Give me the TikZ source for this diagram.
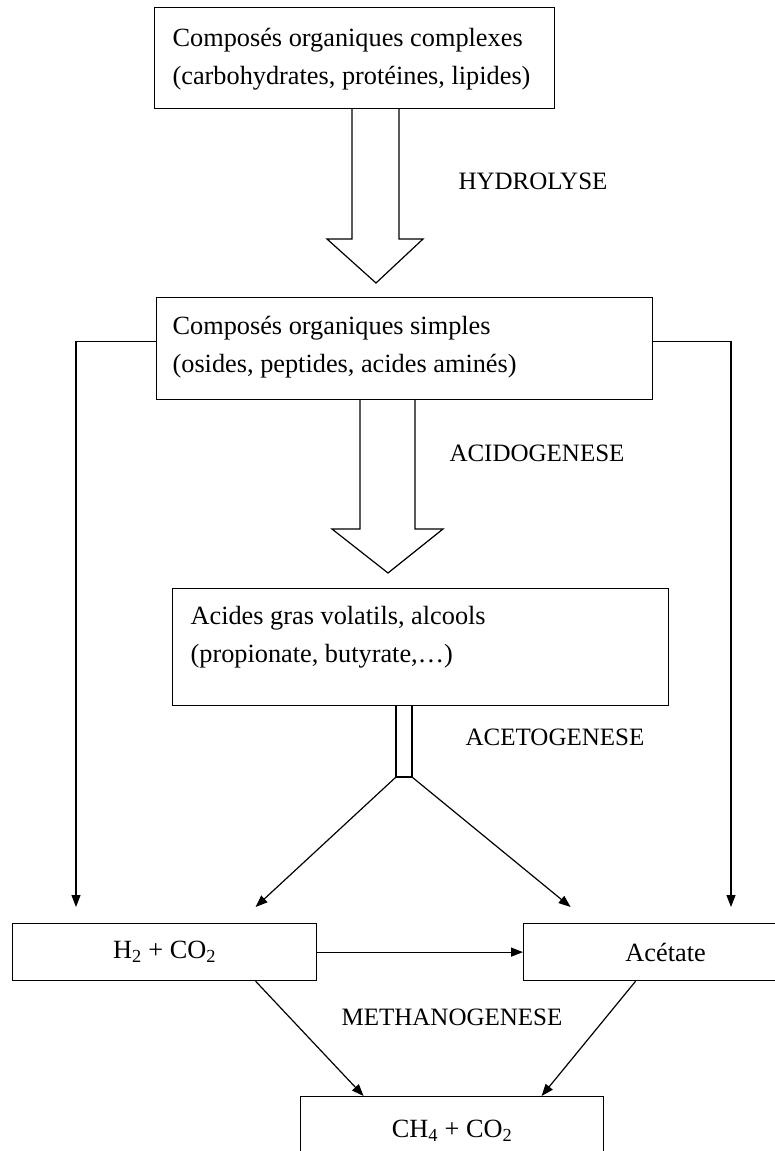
\documentclass[tikz,border=0pt]{standalone}
\usepackage{fontspec}
\setmainfont{Liberation Serif}
\usetikzlibrary{arrows.meta,positioning,calc}

\tikzset{
  etape/.style={draw, line width=1.2pt, inner sep=0pt, anchor=north west, font=\fontsize{26.3}{38}\selectfont},
  etiquette/.style={font=\fontsize{25}{30}\selectfont},
  trait/.style={line width=1.2pt},
  fl/.style={trait, -{Triangle[length=12pt,width=9pt]}}
}

\begin{document}
\begin{tikzpicture}[x=1pt,y=-1pt]
        \useasboundingbox (0,0) rectangle (774,1151);
        % Draw boxes
        \node[etape, minimum width=400pt, minimum height=101pt] (complexes) at (154,7) {\parbox[c][60pt][t]{364pt}{Composés organiques complexes\\(carbohydrates, protéines, lipides)}};
        \node[etape, minimum width=496pt, minimum height=102pt] (simples) at (156,297) {\parbox[c][65pt][t]{464pt}{Composés organiques simples\\(osides, peptides, acides aminés)}};
        \node[etape, minimum width=496pt, minimum height=117pt] (acides) at (172,588) {\parbox[c][82pt][t]{460pt}{Acides gras volatils, alcools\\(propionate, butyrate,…)}};
        \node[etape, minimum width=304pt, minimum height=57pt] (hydrogene) at (12,923) {H\textsubscript{2} + CO\textsubscript{2}};
        \node[etape, minimum width=284pt, minimum height=57pt] (acetate) at (523,923) {Acétate};
        \node[etape, minimum width=303pt, minimum height=68pt] (methane) at (300,1096) {CH\textsubscript{4} + CO\textsubscript{2}};
        % Draw labels
        \node[etiquette] (hydrolyse) at (533,181) {HYDROLYSE};
        \node[etiquette] (acidogenese) at (537,453) {ACIDOGENESE};
        \node[etiquette] (acetogenese) at (555,737) {ACETOGENESE};
        \node[etiquette] (methanogenese) at (452,1017) {METHANOGENESE};
        % Draw big arrows
        \draw[trait] (352,108) -- (352,239) -- (327,239) -- (376,283) -- (423,239) -- (399,239) -- (399,108);
        \draw[trait] (360,399) -- (360,529) -- (332,529) -- (388,573) -- (443,529) -- (415,529) -- (415,399);
        \draw[trait] (396,705) -- (396,777) -- (412,777) -- (412,705);
        % Draw thin arrows
        \coordinate (fourcheG) at (396,777);
        \coordinate (fourcheD) at (412,777);
        \coordinate (gauche) at (76,907);
        \coordinate (droite) at (731,907);
        \draw[fl] ([yshift=7pt]simples.west) -| (gauche);
        \draw[fl] ([yshift=7pt]simples.east) -| (droite);
        \draw[fl] (fourcheG) -- ([xshift=91pt,yshift=16pt]hydrogene.north);
        \draw[fl] (fourcheD) -- ([xshift=-95pt,yshift=16pt]acetate.north);
        \draw[fl] (hydrogene) -- (acetate);
        \draw[fl] ([xshift=91pt]hydrogene.south) -- ([xshift=-88.5pt]methane.north);
        \draw[fl] ([xshift=-30pt]acetate.south) -- ([xshift=89.5pt]methane.north);
    \end{tikzpicture}
\end{document}
